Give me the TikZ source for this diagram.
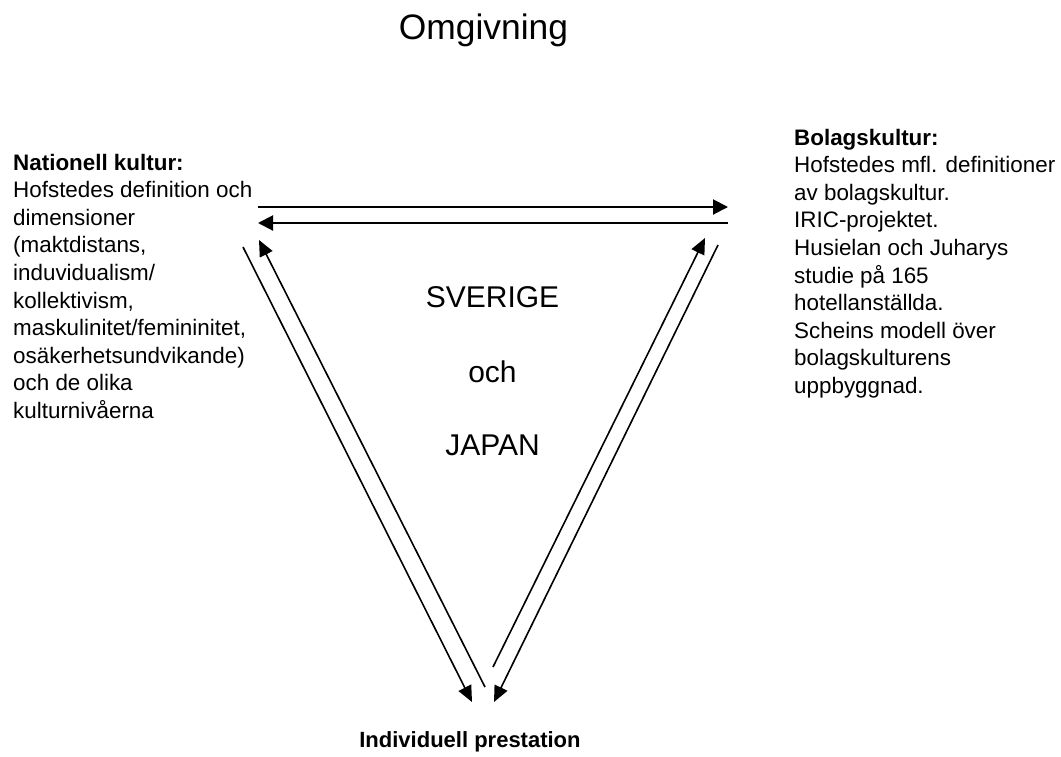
\documentclass[tikz,border=0pt]{standalone}
\usepackage{fontspec}
\setmainfont{Liberation Sans}
\usetikzlibrary{arrows.meta}
\begin{document}
\begin{tikzpicture}[x=1pt,y=-1pt,
  txt/.style={inner sep=0pt,align=left,font=\fontsize{22.4}{27.6}\selectfont},
  ctr/.style={inner sep=0pt,font=\fontsize{30}{36}\selectfont},
  link/.style={line width=1.6pt,-{Triangle[length=16pt,width=14pt]}},
  flat/.style={line width=2pt,-{Triangle[length=15pt,width=15pt]}}]
\useasboundingbox[fill=white] (0,0) rectangle (1061,756);

% headings and text blocks (base anchor = baseline of the last line)
\node[inner sep=0pt,anchor=base,font=\fontsize{35.4}{40}\selectfont] (omg) at (483.5,39) {Omgivning};
\node[txt,anchor=base west] (nat) at (13,418.4) {\textbf{Nationell kultur:}\\Hofstedes definition och\\dimensioner\\(maktdistans,\\induvidualism/\\kollektivism,\\maskulinitet/femininitet,\\osäkerhetsundvikande)\\och de olika\\kulturnivåerna};
\node[txt,anchor=base west] (bol) at (794,393.4) {\textbf{Bolagskultur:}\\Hofstedes mfl. definitioner\\av bolagskultur.\\IRIC-projektet.\\Husielan och Juharys\\studie på 165\\hotellanställda.\\Scheins modell över\\bolagskulturens\\uppbyggnad.};
\node[ctr,anchor=base] (sv) at (492.5,307) {SVERIGE};
\node[ctr,anchor=base] (och) at (492.5,382) {och};
\node[ctr,anchor=base] (jp) at (492.5,455) {JAPAN};
\node[inner sep=0pt,anchor=base,font=\fontsize{22}{26}\selectfont\bfseries] (ind) at (470,747) {Individuell prestation};

% arrow end points
\coordinate (t1a) at (258,207);  \coordinate (t1b) at (728,207);
\coordinate (t2a) at (728,223);  \coordinate (t2b) at (258,223);
\coordinate (la1) at (243,247);  \coordinate (la2) at (472,702);
\coordinate (lb1) at (485,687);  \coordinate (lb2) at (259,240);
\coordinate (rc1) at (493,667);  \coordinate (rc2) at (705,238);
\coordinate (rd1) at (718,245);  \coordinate (rd2) at (494,702);

% connectors
\draw[flat] (t1a) -- (t1b);
\draw[flat] (t2a) -- (t2b);
\draw[link] (la1) -- (la2);
\draw[link] (lb1) -- (lb2);
\draw[link] (rc1) -- (rc2);
\draw[link] (rd1) -- (rd2);
\end{tikzpicture}
\end{document}
